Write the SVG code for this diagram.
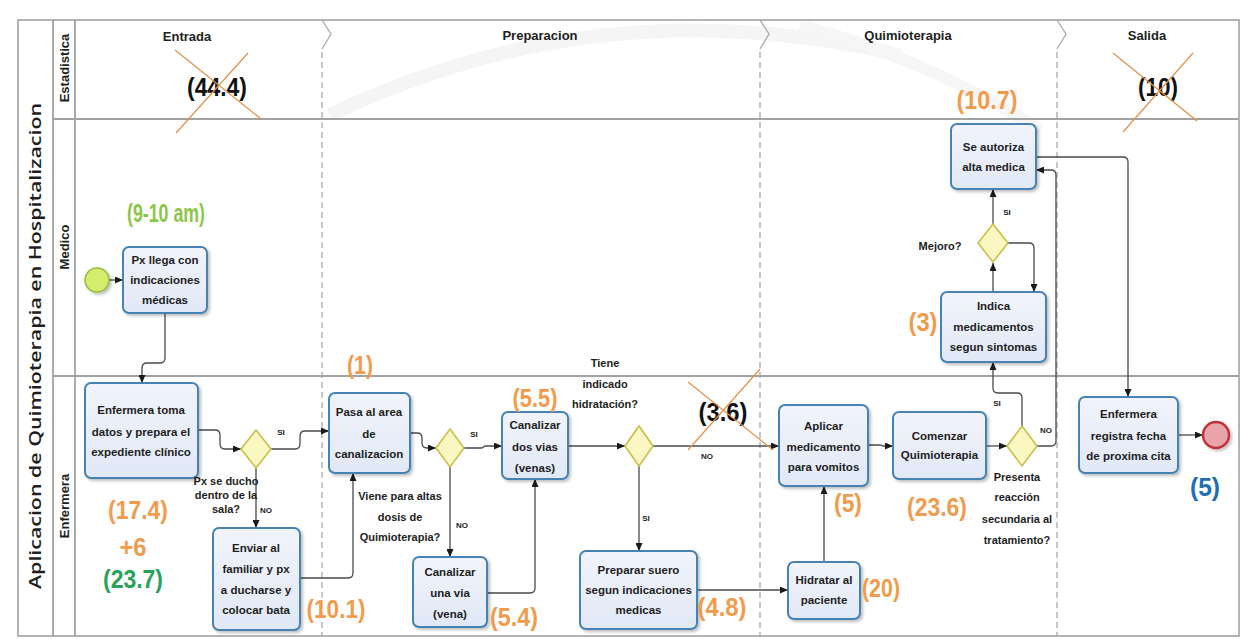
<svg xmlns="http://www.w3.org/2000/svg" width="1244" height="639" viewBox="0 0 1244 639">
  <defs>
    <style>
      .pool { fill: none; stroke: #a2a2a2; stroke-width: 1.6; }
      .lane { stroke: #a2a2a2; stroke-width: 1.8; fill: none; }
      .phase { stroke: #a8a8a8; stroke-width: 1.3; fill: none; stroke-dasharray: 6 4; }
      .chev { stroke: #a8a8a8; stroke-width: 1.3; fill: none; }
      .task { fill: url(#taskFill); stroke: #4682b4; stroke-width: 2; filter: url(#shadow); }
      .gw { fill: #faf7c2; stroke: #c9c04a; stroke-width: 1.6; }
      .conn { fill: none; stroke: #4a4a4a; stroke-width: 1.3; marker-end: url(#arrow); }
      .cross { stroke: #e3914a; stroke-width: 1.2; fill: none; }
      .nt { font-family: "Liberation Sans", Arial, sans-serif; font-weight: bold; font-size: 11.5px; fill: #1e1e1e; text-anchor: middle; }
      .ph { font-family: "Liberation Sans", Arial, sans-serif; font-weight: bold; font-size: 13px; fill: #1e1e1e; text-anchor: middle; }
      .ln { font-family: "Liberation Sans", Arial, sans-serif; font-weight: bold; font-size: 13px; fill: #1e1e1e; text-anchor: middle; }
      .title { font-family: "Open Sans", "Liberation Sans", sans-serif; font-weight: 600; font-size: 17px; fill: #1e1e1e; text-anchor: middle; }
      .q { font-family: "Liberation Sans", Arial, sans-serif; font-weight: bold; font-size: 11px; fill: #1e1e1e; text-anchor: middle; }
      .sm { font-family: "Liberation Sans", Arial, sans-serif; font-weight: bold; font-size: 8px; fill: #222; text-anchor: middle; }
      .num { font-family: "Liberation Sans", Arial, sans-serif; font-weight: bold; font-size: 25px; text-anchor: middle; }
      .or { fill: #f29b4c; }
      .bk { fill: #111; }
      .gl { fill: #8cc54a; }
      .gd { fill: #27a35a; }
      .bl { fill: #1f6db2; }
    </style>
    <linearGradient id="taskFill" x1="0" y1="0" x2="0" y2="1">
      <stop offset="0" stop-color="#f1f4fc"/>
      <stop offset="1" stop-color="#e1e8f6"/>
    </linearGradient>
    <filter id="shadow" x="-10%" y="-10%" width="130%" height="130%">
      <feDropShadow dx="2" dy="2" stdDeviation="1.5" flood-color="#000" flood-opacity="0.25"/>
    </filter>
    <marker id="arrow" markerWidth="8" markerHeight="7" refX="8" refY="3.5" orient="auto" markerUnits="userSpaceOnUse">
      <path d="M0,0 L8,3.5 L0,7 z" fill="#1a1a1a"/>
    </marker>
  </defs>

  <rect width="1244" height="639" fill="#ffffff"/>
  <!-- faint background swoosh -->
  <path d="M330,115 Q600,-15 900,55" stroke="#f5f5f5" stroke-width="14" fill="none"/>
  <path d="M800,25 Q930,60 1040,130" stroke="#f6f6f6" stroke-width="12" fill="none"/>

  <!-- pool, lanes and phases -->
  <g id="pool">
    <rect class="pool" x="18" y="20" width="1221" height="616"/>
    <line class="lane" x1="53" y1="20" x2="53" y2="636"/>
    <line class="lane" x1="75" y1="20" x2="75" y2="636"/>
    <line class="lane" x1="53" y1="119" x2="1239" y2="119"/>
    <line class="lane" x1="53" y1="376" x2="1239" y2="376"/>
    <path class="chev" d="M322,20 L331,34 L322,49"/>
    <line class="phase" x1="322" y1="52" x2="322" y2="636"/>
    <path class="chev" d="M760,20 L769,34 L760,49"/>
    <line class="phase" x1="760" y1="52" x2="760" y2="636"/>
    <path class="chev" d="M1057,20 L1066,34 L1057,49"/>
    <line class="phase" x1="1057" y1="52" x2="1057" y2="636"/>
    <text class="title" transform="translate(41,346) rotate(-90)" textLength="486" lengthAdjust="spacingAndGlyphs">Aplicacion de Quimioterapia en Hospitalizacion</text>
    <text class="ln" transform="translate(69,68) rotate(-90)">Estadistica</text>
    <text class="ln" transform="translate(69,247) rotate(-90)">Medico</text>
    <text class="ln" transform="translate(69,506) rotate(-90)">Enfermera</text>
    <text class="ph" x="187" y="41">Entrada</text>
    <text class="ph" x="540" y="40">Preparacion</text>
    <text class="ph" x="908" y="40">Quimioterapia</text>
    <text class="ph" x="1147" y="40">Salida</text>
  </g>

  <!-- connectors -->
  <g id="connectors">
    <path class="conn" d="M109,280 H123"/>
    <path class="conn" d="M165,313 V358 Q165,363 160,363 H147 Q142,363 142,368 V383"/>
    <path class="conn" d="M198,430 H215 Q220,430 220,435 V444 Q220,449 225,449 H241"/>
    <path class="conn" d="M271,449 H295 Q300,449 300,444 V436 Q300,431 305,431 H329"/>
    <path class="conn" d="M256,468 V528"/>
    <path class="conn" d="M300,578 H348 Q353,578 353,573 V473"/>
    <path class="conn" d="M410,433 H417 Q422,433 422,438 V443 Q422,448 427,448 H436"/>
    <path class="conn" d="M464,448 H482 L485,446 H502"/>
    <path class="conn" d="M450,467 V557"/>
    <path class="conn" d="M487,593 H530 Q535,593 535,588 V479"/>
    <path class="conn" d="M568,446 H625"/>
    <path class="conn" d="M653,446 H779"/>
    <path class="conn" d="M639,466 V551"/>
    <path class="conn" d="M697,590 H788"/>
    <path class="conn" d="M824,562 V486"/>
    <path class="conn" d="M868,445 H880 L883,446 H893"/>
    <path class="conn" d="M986,446 H1007"/>
    <path class="conn" d="M1022,426 V398 Q1022,393 1017,393 H998 Q993,393 993,388 V362"/>
    <path class="conn" d="M1037,446 H1051 Q1056,446 1056,441 V175 Q1056,170 1051,170 H1036"/>
    <path class="conn" d="M993,292 V263"/>
    <path class="conn" d="M993,224 V189"/>
    <path class="conn" d="M1008,243 H1029 Q1034,243 1034,248 V292"/>
    <path class="conn" d="M1036,157 H1123 Q1128,157 1128,162 V397"/>
    <path class="conn" d="M1178,435 H1203"/>
    <text class="sm" x="281" y="435">SI</text>
    <text class="sm" x="266" y="513">NO</text>
    <text class="sm" x="474" y="437">SI</text>
    <text class="sm" x="462" y="528">NO</text>
    <text class="sm" x="707" y="459">NO</text>
    <text class="sm" x="646" y="521">SI</text>
    <text class="sm" x="997" y="406">SI</text>
    <text class="sm" x="1046" y="433">NO</text>
    <text class="sm" x="1007" y="215">SI</text>
  </g>

  <!-- events -->
  <g id="start">
    <circle cx="97" cy="280" r="12" fill="#d6ec6c" stroke="#94bd3a" stroke-width="1.5" filter="url(#shadow)"/>
  </g>
  <g id="end">
    <circle cx="1216" cy="435" r="13" fill="#e9a3ab" stroke="#c0303a" stroke-width="2.4" filter="url(#shadow)"/>
  </g>

  <!-- tasks -->
  <g id="px-llega">
    <rect class="task" x="123" y="247" width="84" height="66" rx="6"/>
    <text class="nt" x="165" y="264">Px llega con</text>
    <text class="nt" x="165" y="284">indicaciones</text>
    <text class="nt" x="165" y="304">médicas</text>
  </g>
  <g id="enfermera-toma">
    <rect class="task" x="85" y="383" width="113" height="95" rx="6"/>
    <text class="nt" x="141" y="414">Enfermera toma</text>
    <text class="nt" x="141" y="436">datos y prepara el</text>
    <text class="nt" x="141" y="456">expediente clínico</text>
  </g>
  <g id="gw-ducho">
    <path class="gw" d="M256,430 L271,449 L256,468 L241,449 z"/>
    <text class="q" font-size="9.5" x="226" y="485">Px se ducho</text>
    <text class="q" font-size="9.5" x="226" y="499">dentro de la</text>
    <text class="q" font-size="9.5" x="226" y="513">sala?</text>
  </g>
  <g id="enviar-familiar">
    <rect class="task" x="213" y="528" width="87" height="102" rx="6"/>
    <text class="nt" x="256" y="552">Enviar al</text>
    <text class="nt" x="256" y="573">familiar y px</text>
    <text class="nt" x="256" y="594">a ducharse y</text>
    <text class="nt" x="256" y="614">colocar bata</text>
  </g>
  <g id="pasa-area">
    <rect class="task" x="329" y="393" width="81" height="80" rx="6"/>
    <text class="nt" x="369" y="416">Pasa al area</text>
    <text class="nt" x="369" y="438">de</text>
    <text class="nt" x="369" y="458">canalizacion</text>
  </g>
  <g id="gw-altas">
    <path class="gw" d="M450,429 L464,448 L450,467 L436,448 z"/>
    <text class="q" x="400" y="500">Viene para altas</text>
    <text class="q" x="400" y="521">dosis de</text>
    <text class="q" x="400" y="541">Quimioterapia?</text>
  </g>
  <g id="canalizar-dos">
    <rect class="task" x="502" y="412" width="66" height="67" rx="6"/>
    <text class="nt" x="535" y="429">Canalizar</text>
    <text class="nt" x="535" y="451">dos vias</text>
    <text class="nt" x="535" y="472">(venas)</text>
  </g>
  <g id="canalizar-una">
    <rect class="task" x="413" y="557" width="74" height="70" rx="6"/>
    <text class="nt" x="450" y="576">Canalizar</text>
    <text class="nt" x="450" y="597">una via</text>
    <text class="nt" x="450" y="618">(vena)</text>
  </g>
  <g id="gw-hidratacion">
    <path class="gw" d="M639,426 L653,446 L639,466 L625,446 z"/>
    <text class="q" x="605" y="367">Tiene</text>
    <text class="q" x="605" y="388">indicado</text>
    <text class="q" x="605" y="408">hidratación?</text>
  </g>
  <g id="preparar-suero">
    <rect class="task" x="580" y="551" width="117" height="78" rx="6"/>
    <text class="nt" x="638.5" y="574">Preparar suero</text>
    <text class="nt" x="638.5" y="594">segun indicaciones</text>
    <text class="nt" x="638.5" y="614">medicas</text>
  </g>
  <g id="hidratar">
    <rect class="task" x="788" y="562" width="72" height="57" rx="6"/>
    <text class="nt" x="824" y="584">Hidratar al</text>
    <text class="nt" x="824" y="604">paciente</text>
  </g>
  <g id="aplicar-medicamento">
    <rect class="task" x="779" y="405" width="89" height="81" rx="6"/>
    <text class="nt" x="823.5" y="430">Aplicar</text>
    <text class="nt" x="823.5" y="451">medicamento</text>
    <text class="nt" x="823.5" y="471">para vomitos</text>
  </g>
  <g id="comenzar-quimio">
    <rect class="task" x="893" y="412" width="93" height="67" rx="6"/>
    <text class="nt" x="939.5" y="440">Comenzar</text>
    <text class="nt" x="939.5" y="459">Quimioterapia</text>
  </g>
  <g id="gw-reaccion">
    <path class="gw" d="M1022,426 L1037,446 L1022,466 L1007,446 z"/>
    <text class="q" x="1017" y="481">Presenta</text>
    <text class="q" x="1017" y="501">reacción</text>
    <text class="q" x="1017" y="523">secundaria al</text>
    <text class="q" x="1017" y="544">tratamiento?</text>
  </g>
  <g id="indica-medicamentos">
    <rect class="task" x="941" y="292" width="105" height="70" rx="6"/>
    <text class="nt" x="993.5" y="310">Indica</text>
    <text class="nt" x="993.5" y="331">medicamentos</text>
    <text class="nt" x="993.5" y="351">segun sintomas</text>
  </g>
  <g id="gw-mejoro">
    <path class="gw" d="M993,224 L1008,243 L993,262 L978,243 z"/>
    <text class="q" x="940" y="250">Mejoro?</text>
  </g>
  <g id="se-autoriza">
    <rect class="task" x="951" y="124" width="85" height="65" rx="6"/>
    <text class="nt" x="993.5" y="151">Se autoriza</text>
    <text class="nt" x="993.5" y="171">alta medica</text>
  </g>
  <g id="enfermera-registra">
    <rect class="task" x="1079" y="397" width="99" height="76" rx="6"/>
    <text class="nt" x="1128.5" y="418">Enfermera</text>
    <text class="nt" x="1128.5" y="440">registra fecha</text>
    <text class="nt" x="1128.5" y="460">de proxima cita</text>
  </g>

  <!-- time annotations -->
  <g id="times">
    <text class="num bk" x="217" y="96" textLength="60" lengthAdjust="spacingAndGlyphs">(44.4)</text>
    <path class="cross" d="M175,50 L261,119 M248,53 L176,133"/>
    <text class="num bk" x="1158" y="96" textLength="40" lengthAdjust="spacingAndGlyphs">(10)</text>
    <path class="cross" d="M1113,53 L1197,121 M1193,53 L1123,132"/>
    <text class="num bk" x="723" y="421" textLength="49" lengthAdjust="spacingAndGlyphs">(3.6)</text>
    <path class="cross" d="M688,382 L773,450 M760,369 L688,450"/>
    <text class="num gl" font-size="21" x="166" y="222" textLength="78" lengthAdjust="spacingAndGlyphs">(9-10 am)</text>
    <text class="num or" x="987" y="109" textLength="61" lengthAdjust="spacingAndGlyphs">(10.7)</text>
    <text class="num or" x="923" y="331" textLength="29" lengthAdjust="spacingAndGlyphs">(3)</text>
    <text class="num or" x="360" y="374" textLength="26" lengthAdjust="spacingAndGlyphs">(1)</text>
    <text class="num or" x="535" y="407" textLength="45" lengthAdjust="spacingAndGlyphs">(5.5)</text>
    <text class="num or" x="138" y="519" textLength="60" lengthAdjust="spacingAndGlyphs">(17.4)</text>
    <text class="num or" x="133" y="556" textLength="27" lengthAdjust="spacingAndGlyphs">+6</text>
    <text class="num gd" x="133" y="588" textLength="60" lengthAdjust="spacingAndGlyphs">(23.7)</text>
    <text class="num or" x="336" y="618" textLength="59" lengthAdjust="spacingAndGlyphs">(10.1)</text>
    <text class="num or" x="514" y="626" textLength="48" lengthAdjust="spacingAndGlyphs">(5.4)</text>
    <text class="num or" x="722" y="616" textLength="49" lengthAdjust="spacingAndGlyphs">(4.8)</text>
    <text class="num or" x="881" y="597" textLength="38" lengthAdjust="spacingAndGlyphs">(20)</text>
    <text class="num or" x="848" y="512" textLength="28" lengthAdjust="spacingAndGlyphs">(5)</text>
    <text class="num or" x="937" y="516" textLength="60" lengthAdjust="spacingAndGlyphs">(23.6)</text>
    <text class="num bl" x="1205" y="496" textLength="30" lengthAdjust="spacingAndGlyphs">(5)</text>
  </g>
</svg>
